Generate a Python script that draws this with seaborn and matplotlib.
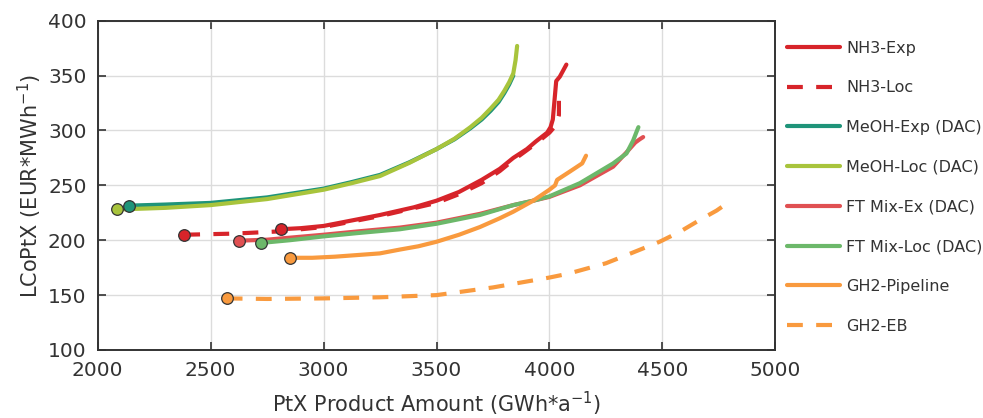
import matplotlib
matplotlib.use("Agg")
import matplotlib.pyplot as plt
import numpy as np
import pandas as pd
import seaborn as sns

# values (GWh/a vs EUR/MWh)
names = ["NH3-Exp", "NH3-Loc", "MeOH-Exp (DAC)", "MeOH-Loc (DAC)",
         "FT Mix-Ex (DAC)", "FT Mix-Loc (DAC)", "GH2-Pipeline", "GH2-EB"]

nh3_exp_x = [2810, 2900, 3000, 3100, 3250, 3400, 3500, 3600, 3700, 3780, 3840, 3900, 3940, 3990, 4005, 4015, 4030, 4046, 4075]
nh3_exp_y = [210, 211, 213, 217, 223, 230, 236, 244, 255, 265, 275, 283, 290, 298, 303, 310, 345, 349, 360]

nh3_loc_x = [2383, 2600, 2800, 2900, 3000, 3250, 3500, 3600, 3700, 3780, 3840, 3940, 4000, 4030, 4042, 4042]
nh3_loc_y = [205, 206, 208, 210, 212, 222, 234, 242, 252, 263, 273, 288, 298, 305, 314, 327]

meoh_exp_x = [2137, 2300, 2500, 2750, 3000, 3125, 3250, 3380, 3500, 3580, 3650, 3700, 3740, 3775, 3800, 3822, 3840]
meoh_exp_y = [231.5, 232.5, 234, 239, 247, 253, 259.5, 271, 283, 292, 302, 310, 318, 326, 334, 342, 350]

meoh_loc_x = [2087, 2300, 2500, 2750, 3000, 3125, 3250, 3380, 3500, 3580, 3650, 3700, 3740, 3775, 3800, 3822, 3840, 3850, 3857]
meoh_loc_y = [228, 229.5, 232, 237.5, 246, 252, 258.5, 270.5, 283, 292.5, 303, 311.5, 320, 328, 336, 344, 352, 364, 377]

ft_ex_x = [2627, 2750, 3000, 3150, 3338, 3500, 3692, 3840, 3928, 4000, 4135, 4282, 4341, 4380, 4400, 4415]
ft_ex_y = [199.6, 200.5, 205, 208, 211.5, 216, 224, 232, 236, 239.5, 250, 267, 280, 289, 292, 294]

ft_loc_x = [2721, 2850, 3000, 3150, 3338, 3500, 3692, 3840, 3928, 4000, 4135, 4282, 4341, 4371, 4388, 4394]
ft_loc_y = [197.5, 200, 203.5, 206.5, 210, 215, 223, 232, 236, 240, 252, 270, 279, 291, 300, 303]

gh2_pipe_x = [2853, 2950, 3050, 3150, 3249, 3338, 3420, 3500, 3600, 3692, 3780, 3840, 3928, 4000, 4025, 4034, 4090, 4145, 4162]
gh2_pipe_y = [184, 184, 185, 186.5, 188, 191.5, 194.5, 198.6, 205, 212, 220, 226, 236, 246, 250, 255, 262.5, 270, 277]

gh2_eb_x = [2571, 2750, 3000, 3249, 3500, 3750, 4000, 4083, 4250, 4342, 4489, 4580, 4666, 4740, 4810]
gh2_eb_y = [147, 146.5, 147, 148, 150, 157, 166, 169.5, 179, 186.5, 198.7, 208, 218.5, 227, 237]

xs = [nh3_exp_x, nh3_loc_x, meoh_exp_x, meoh_loc_x, ft_ex_x, ft_loc_x, gh2_pipe_x, gh2_eb_x]
ys = [nh3_exp_y, nh3_loc_y, meoh_exp_y, meoh_loc_y, ft_ex_y, ft_loc_y, gh2_pipe_y, gh2_eb_y]

colors = ["#d7242a", "#d7242a", "#1f9479", "#a8c43c",
          "#e05052", "#6cb86a", "#f99a3e", "#f99a3e"]
dashed = [False, True, False, False, False, False, False, True]

sns.set_theme(style="ticks", rc={
    "xtick.direction": "in", "ytick.direction": "in",
    "xtick.top": True, "ytick.right": True,
    "xtick.major.size": 5.5, "ytick.major.size": 5.5,
    "xtick.major.width": 1.2, "ytick.major.width": 1.2,
    "axes.edgecolor": "#333333", "axes.linewidth": 1.4,
})
plt.rcParams["font.family"] = ["DejaVu Sans"]
plt.rcParams["text.color"] = "#333333"
plt.rcParams["axes.labelcolor"] = "#333333"

fig = plt.figure(figsize=(9.83, 4.18), dpi=100)
ax = fig.add_axes([0.0994, 0.1627, 0.6893, 0.7878])

dash = (0, (3.8, 3.2))
for x, y, c, d, n in zip(xs, ys, colors, dashed, names):
    sns.lineplot(x=x, y=y, ax=ax, color=c, lw=3, sort=False, estimator=None,
                 linestyle=dash if d else "-", dash_capstyle="butt", label=n)

# start markers
for x, y, c in zip(xs, ys, colors):
    sns.scatterplot(x=[x[0]], y=[y[0]], ax=ax, color=c, s=70,
                    edgecolor="#333333", linewidth=0.9, zorder=5, legend=False)

ax.set_xlim(2000, 5000)
ax.set_ylim(100, 400)
ax.set_xticks(np.arange(2000, 5001, 500))
ax.set_yticks(np.arange(100, 401, 50))
ax.grid(True, color="#dcdcdc", lw=1)
ax.set_axisbelow(True)
ax.tick_params(labelsize=14.5, colors="#333333", pad=8)
ax.set_xlabel("PtX Product Amount (GWh*a$^{-1}$)", fontsize=15, labelpad=7)
ax.set_ylabel("LCoPtX (EUR*MWh$^{-1}$)", fontsize=15, labelpad=3)

handles, labels = ax.get_legend_handles_labels()
ax.legend(handles, labels, loc="upper left", bbox_to_anchor=(0.801, 0.903),
          bbox_transform=fig.transFigure, frameon=False, fontsize=11.5,
          handlelength=3.3, handletextpad=0.4, labelspacing=1.55, borderpad=0,
          borderaxespad=0)

fig.savefig("out.png", dpi=100)
